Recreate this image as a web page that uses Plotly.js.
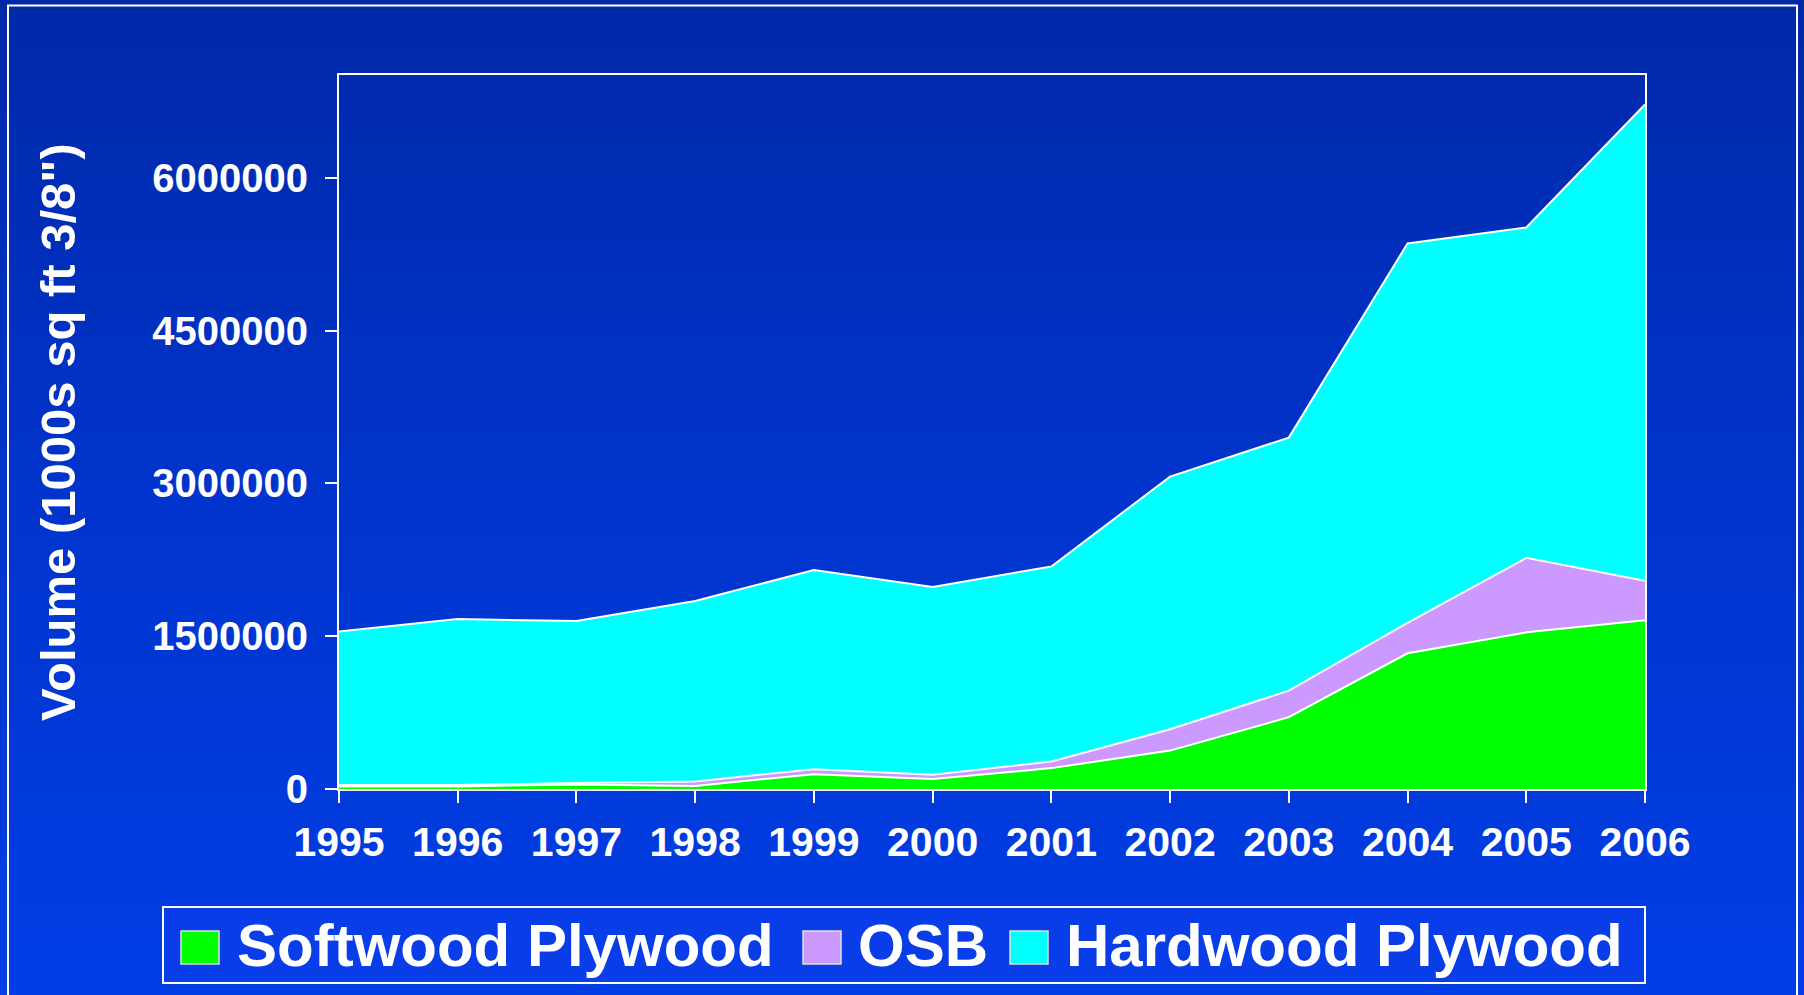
<!DOCTYPE html>
<html>
<head>
<meta charset="utf-8">
<script src="https://cdn.plot.ly/plotly-3.0.1.min.js"></script>
<style>
  html, body { margin: 0; padding: 0; }
  body { width: 1804px; height: 995px; overflow: hidden;
         background: linear-gradient(to bottom, #0029A8 0%, #0034CC 50%, #003EE6 100%); }
  #chart { width: 1804px; height: 995px; }
</style>
</head>
<body>
<div id="chart"></div>
<script>
// ---- data ----
const years = [1995, 1996, 1997, 1998, 1999, 2000, 2001, 2002, 2003, 2004, 2005, 2006];
const softwoodPlywood = [25000, 25000, 45000, 30000, 146000, 97000, 205000, 377000, 705000, 1332000, 1538000, 1658000];
const osb = [15000, 15000, 13000, 44000, 49000, 42000, 65000, 210000, 261000, 300000, 731000, 386000];
const hardwoodPlywood = [1505000, 1628000, 1592000, 1772000, 1954000, 1845000, 1915000, 2480000, 2484000, 3724000, 3244000, 4676000];
const seriesNames = ["Softwood Plywood", "OSB", "Hardwood Plywood"];
const seriesColors = ["#00FF00", "#CC99FF", "#00FFFF"];
const yTicks = [0, 1500000, 3000000, 4500000, 6000000];
const yTickText = ["0", "1500000", "3000000", "4500000", "6000000"];
const yTitle = 'Volume (1000s sq ft 3/8")';

// ---- geometry helpers (plot area in px) ----
const L = 339, R = 1645, T = 75, B = 789;
const px = x => (x - L) / (R - L);
const py = y => (B - y) / (B - T);

const FONT = "Liberation Sans, Arial, Helvetica, sans-serif";
const seriesValues = [softwoodPlywood, osb, hardwoodPlywood];

const traces = seriesNames.map((name, i) => ({
  type: "scatter",
  mode: "lines",
  name: name,
  x: years,
  y: seriesValues[i],
  stackgroup: "one",
  fillcolor: seriesColors[i],
  line: { color: "#FFFFFF", width: 2 },
  showlegend: false,
  hoverinfo: "x+y+name"
}));

// legend drawn with shapes + annotations
const swatchX = [181, 803, 1010];
const textX = [235, 856, 1064];
const shapes = [
  // outer frame
  { type: "rect", xref: "paper", yref: "paper", x0: px(8), x1: px(1797), y0: py(1010), y1: py(5.5),
    line: { color: "#FFFFFF", width: 2 }, fillcolor: "rgba(0,0,0,0)", layer: "below" },
  // legend box
  { type: "rect", xref: "paper", yref: "paper", x0: px(163), x1: px(1645), y0: py(983), y1: py(907),
    line: { color: "#FFFFFF", width: 2 }, fillcolor: "#083DE8", layer: "below" }
];
const annotations = [
  { xref: "paper", yref: "paper", x: px(58), y: 0.5, text: yTitle, textangle: -90, showarrow: false,
    font: { family: FONT, size: 49, color: "#FFFFFF", weight: "bold" }, xanchor: "center", yanchor: "middle" }
];
seriesNames.forEach((name, i) => {
  shapes.push({ type: "rect", xref: "paper", yref: "paper",
    x0: px(swatchX[i]), x1: px(swatchX[i] + 38), y0: py(964), y1: py(931),
    line: { color: "#E0E0E0", width: 1.5 }, fillcolor: seriesColors[i] });
  annotations.push({ xref: "paper", yref: "paper", x: px(textX[i]), y: py(945), text: name,
    showarrow: false, xanchor: "left", yanchor: "middle",
    font: { family: FONT, size: 60, color: "#FFFFFF", weight: "bold" } });
});

const layout = {
  width: 1804, height: 995,
  margin: { l: L, r: 1804 - R, t: T, b: 995 - B, pad: 0 },
  paper_bgcolor: "rgba(0,0,0,0)",
  plot_bgcolor: "rgba(0,0,0,0)",
  showlegend: false,
  xaxis: {
    range: [1995, 2006], tickvals: years, ticktext: years.map(String),
    ticks: "outside", ticklen: 12, tickwidth: 2, tickcolor: "#FFFFFF",
    showline: true, linecolor: "#FFFFFF", linewidth: 2, mirror: true,
    showgrid: false, zeroline: false, ticklabelstandoff: 4,
    tickfont: { family: FONT, size: 41, color: "#FFFFFF", weight: "bold" }
  },
  yaxis: {
    range: [0, 7010000], tickvals: yTicks, ticktext: yTickText,
    ticks: "outside", ticklen: 12, tickwidth: 2, tickcolor: "#FFFFFF",
    showline: true, linecolor: "#FFFFFF", linewidth: 2, mirror: true,
    showgrid: false, zeroline: false, ticklabelstandoff: 9,
    tickfont: { family: FONT, size: 40, color: "#FFFFFF", weight: "bold" }
  },
  shapes: shapes,
  annotations: annotations
};

Plotly.newPlot("chart", traces, layout, { displayModeBar: false, staticPlot: true });
</script>
</body>
</html>
